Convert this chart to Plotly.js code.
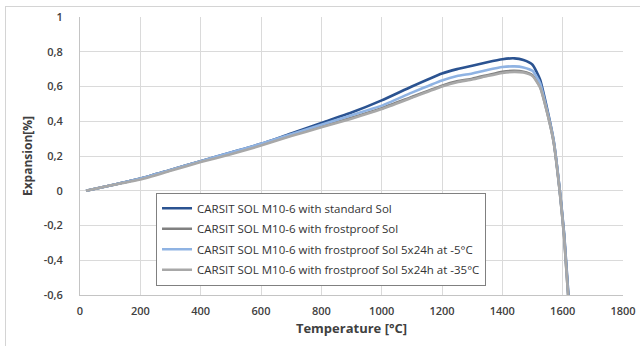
<!DOCTYPE html>
<html>
<head>
<meta charset="utf-8">
<script src="https://cdn.plot.ly/plotly-3.0.1.min.js"></script>
<style>
html,body{margin:0;padding:0;background:#fff;}
#wrap{position:relative;width:640px;height:346px;overflow:hidden;}
#chart{position:absolute;left:0;top:0;width:640px;height:346px;}
#frame{position:absolute;left:5px;top:6px;width:640px;height:346px;border-left:1px solid #d4d4d4;border-top:1px solid #d4d4d4;pointer-events:none;}
</style>
</head>
<body>
<div id="wrap"><div id="chart"></div><div id="frame"></div></div>
<script>
var temperature = [20, 100, 200, 300, 400, 500, 600, 700, 800, 900, 1000, 1100, 1200, 1250, 1300, 1350, 1400, 1440, 1470, 1500, 1525, 1550, 1570, 1590, 1605, 1620, 1630];
var standardSol = [0, 0.03, 0.07, 0.12, 0.17, 0.22, 0.27, 0.33, 0.39, 0.45, 0.52, 0.60, 0.675, 0.70, 0.72, 0.74, 0.757, 0.762, 0.752, 0.725, 0.64, 0.46, 0.29, 0.01, -0.25, -0.62, -0.8];
var frostproofSol = [0, 0.03, 0.07, 0.12, 0.17, 0.215, 0.265, 0.32, 0.37, 0.42, 0.475, 0.54, 0.605, 0.63, 0.645, 0.665, 0.685, 0.69, 0.685, 0.665, 0.60, 0.44, 0.28, 0.0, -0.27, -0.65, -0.8];
var frostproof5 = [0, 0.03, 0.07, 0.12, 0.17, 0.22, 0.27, 0.325, 0.38, 0.435, 0.49, 0.565, 0.635, 0.66, 0.675, 0.695, 0.712, 0.716, 0.71, 0.69, 0.62, 0.45, 0.29, 0.01, -0.26, -0.64, -0.8];
var frostproof35 = [0, 0.03, 0.065, 0.115, 0.165, 0.21, 0.26, 0.315, 0.365, 0.415, 0.47, 0.535, 0.60, 0.625, 0.64, 0.66, 0.678, 0.684, 0.68, 0.66, 0.595, 0.44, 0.28, 0.0, -0.27, -0.65, -0.8];

var seriesNames = [
  "CARSIT SOL M10-6 with standard Sol",
  "CARSIT SOL M10-6 with frostproof Sol",
  "CARSIT SOL M10-6 with frostproof Sol 5x24h at -5°C",
  "CARSIT SOL M10-6 with frostproof Sol 5x24h at -35°C"
];
var seriesValues = [standardSol, frostproofSol, frostproof5, frostproof35];
var seriesColors = ["#2b5391", "#808080", "#8fb3e3", "#a8a8a8"];

var yTickVals = [1, 0.8, 0.6, 0.4, 0.2, 0, -0.2, -0.4, -0.6];
var yTickText = ["1", "0,8", "0,6", "0,4", "0,2", "0", "-0,2", "-0,4", "-0,6"];
var xTickVals = [0, 200, 400, 600, 800, 1000, 1200, 1400, 1600, 1800];

var traces = seriesNames.map(function(n, i){
  return {
    x: temperature, y: seriesValues[i], name: n, type: "scatter", mode: "lines",
    legendgroup: "g" + i,
    line: {color: seriesColors[i], width: 2.6, shape: "spline", smoothing: 0.5},
    cliponaxis: true
  };
});

var tickFont = {family: "Open Sans, sans-serif", size: 11, color: "#404040", weight: 600};

var layout = {
  width: 640, height: 346,
  margin: {l: 80, r: 17, t: 17, b: 51, pad: 0},
  paper_bgcolor: "#ffffff", plot_bgcolor: "#ffffff",
  showlegend: true,
  xaxis: {
    range: [0, 1800], tickvals: xTickVals, ticktext: xTickVals.map(String),
    showgrid: true, gridcolor: "#dadada", gridwidth: 1, zeroline: false,
    showline: true, linecolor: "#c4c4c4", linewidth: 1,
    ticks: "", tickfont: tickFont, ticklabelstandoff: 6,
    title: {text: "Temperature [°C]", font: {family: "Open Sans, sans-serif", size: 13, color: "#404040", weight: 700}, standoff: 6}
  },
  yaxis: {
    range: [-0.6, 1], tickvals: yTickVals, ticktext: yTickText,
    showgrid: true, gridcolor: "#dadada", gridwidth: 1, zeroline: false,
    showline: true, linecolor: "#c4c4c4", linewidth: 1,
    ticks: "", tickfont: tickFont, ticklabelstandoff: 14,
    title: {text: "Expansion[%]", font: {family: "Open Sans, sans-serif", size: 12, color: "#404040", weight: 700}, standoff: 8}
  },
  legend: {
    x: 0.14, y: 0.368, xanchor: "left", yanchor: "top",
    bgcolor: "#ffffff", bordercolor: "#808080", borderwidth: 1,
    font: {family: "Open Sans, sans-serif", size: 11.5, color: "#333333"},
    itemwidth: 30, tracegroupgap: 1.5
  }
};

Plotly.newPlot("chart", traces, layout, {displayModeBar: false, staticPlot: true});
</script>
</body>
</html>
